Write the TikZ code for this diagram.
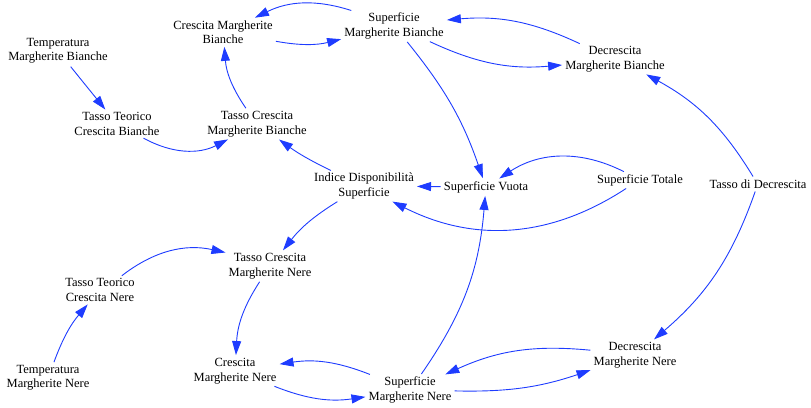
\documentclass[tikz,border=0pt]{standalone}
\usepackage{fontspec}
\setmainfont{Liberation Serif}
\usetikzlibrary{arrows.meta}
\definecolor{lnk}{RGB}{30,60,255}
\begin{document}
\begin{tikzpicture}[x=1pt,y=1pt,
  var/.style={align=center,inner sep=2pt,font=\fontsize{12.5}{14.5}\selectfont},
  lk/.style={draw=lnk,line width=0.9pt,-{Triangle[length=14pt,width=9pt]},shorten <=1pt,shorten >=1pt}]
\useasboundingbox (0,0) rectangle (811,-407);
\node[var] (cmb) at (223,-32) {Crescita Margherite\\Bianche};
\node[var] (smb) at (394,-26) {Superficie\\Margherite Bianche};
\node[var] (tmb) at (58,-51) {Temperatura\\Margherite Bianche};
\node[var] (ttcb) at (117,-124) {Tasso Teorico\\Crescita Bianche};
\node[var] (tcmb) at (257,-124) {Tasso Crescita\\Margherite Bianche};
\node[var] (dmb) at (615,-59) {Decrescita\\Margherite Bianche};
\node[var] (ids) at (364,-186) {Indice Disponibilità\\Superficie};
\node[var] (sv) at (486,-187) {Superficie Vuota};
\node[var] (st) at (640,-180) {Superficie Totale};
\node[var] (tdd) at (758,-184) {Tasso di Decrescita};
\node[var] (tcmn) at (270,-266) {Tasso Crescita\\Margherite Nere};
\node[var] (ttcn) at (100,-290) {Tasso Teorico\\Crescita Nere};
\node[var] (tmn) at (48,-378) {Temperatura\\Margherite Nere};
\node[var] (cmn) at (235,-371) {Crescita\\Margherite Nere};
\node[var] (smn) at (410,-390) {Superficie\\Margherite Nere};
\node[var] (dmn) at (635,-355) {Decrescita\\Margherite Nere};

\draw[lk] (smb) to[bend right=22] (cmb);
\draw[lk] (cmb) to[bend right=12] (smb);
\draw[lk] (dmb) to[bend right=15] (smb);
\draw[lk] (smb) to[bend right=15] (dmb);
\draw[lk] (smb) to[bend left=10] (sv);
\draw[lk] (tmb) to (ttcb);
\draw[lk] (ttcb) to[bend right=28] (tcmb);
\draw[lk] (tcmb) to[bend left=15] (cmb);
\draw[lk] (ids) to[bend left=5] (tcmb);
\draw[lk] (sv) to (ids);
\draw[lk] (st) to[bend right=30] (sv);
\draw[lk] (st) to[bend left=30] (ids);
\draw[lk] (tdd) to[bend right=15] (dmb);
\draw[lk] (tdd) to[bend left=15] (dmn);
\draw[lk] (ids) to[bend right=10] (tcmn);
\draw[lk] (ttcn) to[bend left=25] (tcmn);
\draw[lk] (tmn) to[bend left=10] (ttcn);
\draw[lk] (tcmn) to[bend right=15] (cmn);
\draw[lk] (smn) to[bend right=15] (cmn);
\draw[lk] (cmn) to[bend right=15] (smn);
\draw[lk] (smn) to[bend right=10] (dmn);
\draw[lk] (dmn) to[bend right=15] (smn);
\draw[lk] (smn) to[bend right=15] (sv);
\end{tikzpicture}
\end{document}
